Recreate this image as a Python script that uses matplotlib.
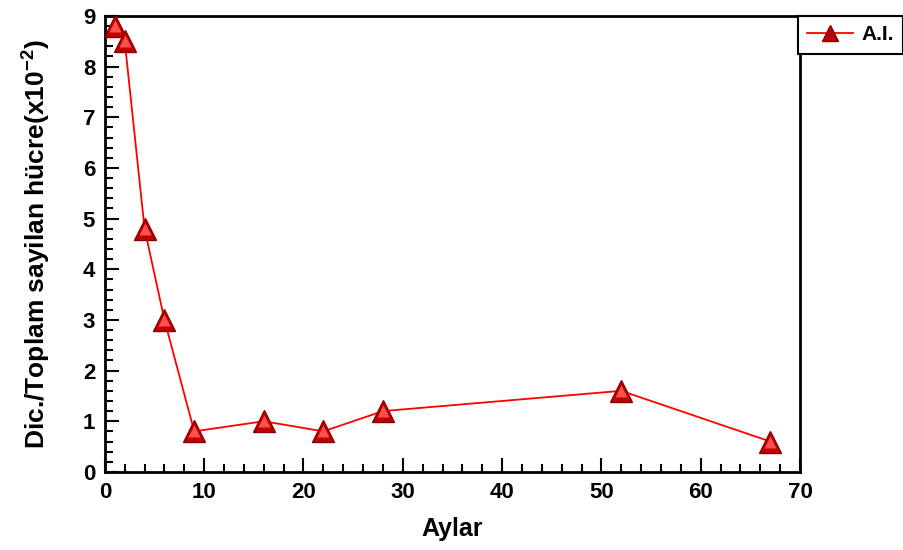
import matplotlib
matplotlib.use("Agg")
import matplotlib.pyplot as plt
from matplotlib.ticker import MultipleLocator

plt.rcParams["font.family"] = ["Liberation Sans", "DejaVu Sans"]
plt.rcParams["font.weight"] = "bold"
plt.rcParams["mathtext.fontset"] = "custom"
plt.rcParams["mathtext.rm"] = "Liberation Sans:bold"
plt.rcParams["mathtext.bf"] = "Liberation Sans:bold"

months = [1, 2, 4, 6, 9, 16, 22, 28, 52, 67]
ratio = [8.8, 8.5, 4.8, 3.0, 0.8, 1.0, 0.8, 1.2, 1.6, 0.6]

fig = plt.figure(figsize=(9.04, 5.5), dpi=100)
ax = fig.add_axes([0.116, 0.142, 0.769, 0.829])

ax.plot(months, ratio, color="#ff0000", lw=1.3, marker="^", ms=16,
        markerfacecolor="#c00000", markeredgecolor="#8b0000",
        markeredgewidth=1.0, label="A.I.", zorder=3)
# lighter inner face gives the markers a bevelled look
ax.plot(months, ratio, ls="none", marker="^", ms=8,
        markerfacecolor="#ff5050", markeredgecolor="none", zorder=4)

ax.set_xlim(0, 70)
ax.set_ylim(0, 9)
ax.xaxis.set_major_locator(MultipleLocator(10))
ax.xaxis.set_minor_locator(MultipleLocator(2))
ax.yaxis.set_major_locator(MultipleLocator(1))
ax.yaxis.set_minor_locator(MultipleLocator(0.2))
ax.tick_params(which="both", direction="in", width=1.5, labelsize=16,
               top=False, right=False)
ax.tick_params(which="major", length=10, pad=7)
ax.tick_params(which="minor", length=6)
for s in ax.spines.values():
    s.set_linewidth(2)

ax.set_xlabel("Aylar", fontsize=18, fontweight="bold", labelpad=10)
ax.set_ylabel(r"Dic./Toplam sayilan hücre(x10$^{\mathbf{-2}}$)", fontsize=19,
              fontweight="bold", labelpad=22)

leg = ax.legend(loc="upper left", bbox_to_anchor=(0.997, 1.0), fancybox=False,
                edgecolor="black", framealpha=1, borderaxespad=0,
                prop={"size": 15, "weight": "bold"}, handlelength=2.2,
                handletextpad=0.4, borderpad=0.45, markerscale=0.75)
leg.get_frame().set_linewidth(1.5)

fig.savefig("out.png", dpi=100)
